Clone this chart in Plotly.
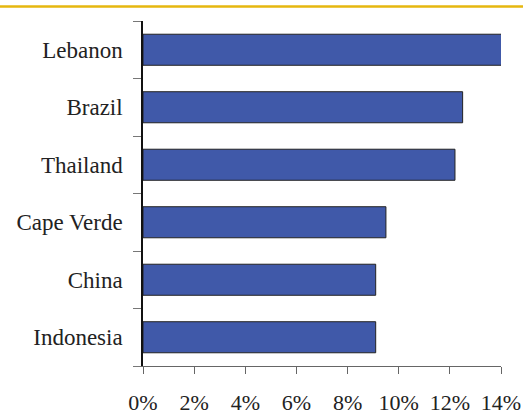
import plotly.graph_objects as go

# Share by country (percent)
countries = ["Lebanon", "Brazil", "Thailand", "Cape Verde", "China", "Indonesia"]
shares = [14.05, 12.5, 12.2, 9.5, 9.1, 9.1]
x_ticks = [0, 2, 4, 6, 8, 10, 12, 14]
x_tick_labels = [f"{v}%" for v in x_ticks]

font_family = "Liberation Serif"

fig = go.Figure(
    go.Bar(
        y=countries,
        x=shares,
        orientation="h",
        marker=dict(color="#4059A9", line=dict(color="#222222", width=1)),
        hoverinfo="skip",
    )
)

fig.update_layout(
    width=523,
    height=414,
    margin=dict(l=142.5, r=22.3, t=20.7, b=48, autoexpand=False),
    paper_bgcolor="white",
    plot_bgcolor="white",
    bargap=0.46,
    showlegend=False,
    font=dict(family=font_family, size=21, color="#222222"),
    shapes=[
        dict(
            type="line",
            xref="paper",
            yref="paper",
            xsizemode="pixel",
            ysizemode="pixel",
            xanchor=0,
            yanchor=1,
            x0=-143,
            x1=381,
            y0=14.5,
            y1=14.5,
            line=dict(color="#E6B70F", width=2.5),
        )
    ],
)

fig.update_xaxes(
    range=[0, 14],
    tickvals=x_ticks,
    ticktext=x_tick_labels,
    automargin=False,
    showgrid=False,
    zeroline=False,
    showline=True,
    linecolor="#666666",
    linewidth=1,
    ticks="outside",
    ticklen=7,
    tickcolor="#666666",
    tickwidth=1,
    ticklabelstandoff=10,
    tickfont=dict(family=font_family, size=22, color="#222222"),
)

fig.update_yaxes(
    categoryorder="array",
    categoryarray=countries[::-1],
    automargin=False,
    showgrid=False,
    zeroline=False,
    showline=True,
    linecolor="#111111",
    linewidth=1.5,
    ticks="outside",
    tickson="boundaries",
    ticklen=8,
    tickcolor="#777777",
    tickwidth=1,
    ticklabelstandoff=14,
    tickfont=dict(family=font_family, size=23, color="#222222"),
)

fig.write_html("out.html")
